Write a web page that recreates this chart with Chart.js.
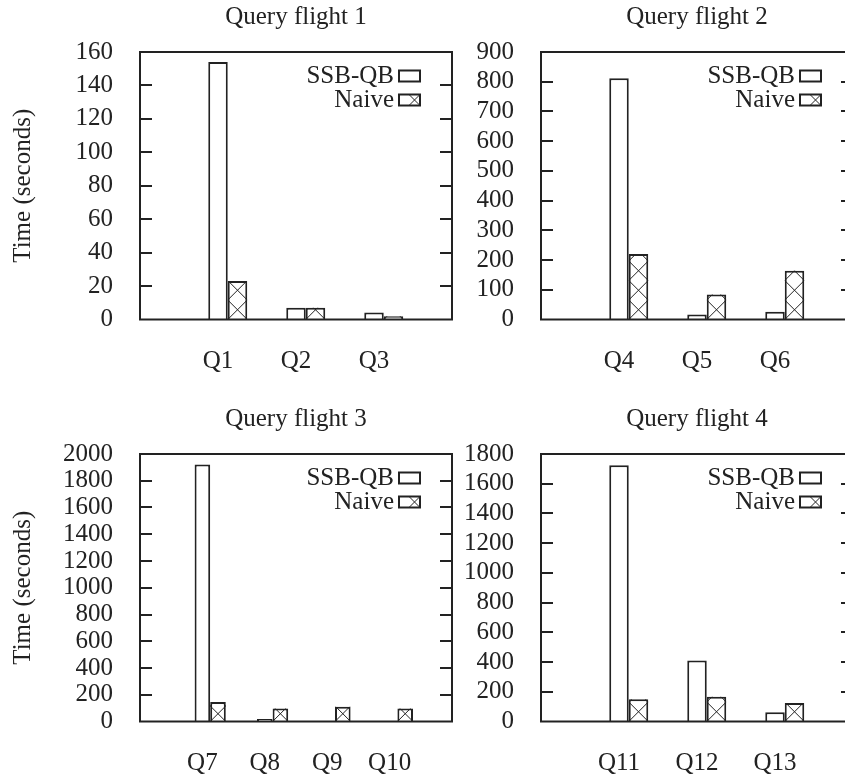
<!DOCTYPE html>
<html>
<head>
<meta charset="utf-8">
<script src="https://cdn.jsdelivr.net/npm/chart.js@4.4.0/dist/chart.umd.min.js"></script>
<style>
  html, body { margin: 0; padding: 0; background: #fff; overflow: hidden; }
  #wrap { position: relative; width: 845px; height: 778px; overflow: hidden; }
  canvas { position: absolute; }
</style>
</head>
<body>
<div id="wrap">
  <canvas id="flight1" width="460" height="390" style="left:0;top:0"></canvas>
  <canvas id="flight2" width="400" height="390" style="left:460px;top:0"></canvas>
  <canvas id="flight3" width="460" height="376" style="left:0;top:402px"></canvas>
  <canvas id="flight4" width="400" height="376" style="left:460px;top:402px"></canvas>
</div>
<script>
// query times in seconds
const flight1Queries = ['Q1', 'Q2', 'Q3'];
const flight1Ssb = [154, 7, 4.2];
const flight1Naive = [23, 7, 2];

const flight2Queries = ['Q4', 'Q5', 'Q6'];
const flight2Ssb = [812, 17, 26];
const flight2Naive = [220, 84, 164];

const flight3Queries = ['Q7', 'Q8', 'Q9', 'Q10'];
const flight3Ssb = [1922, 18, 2, 2];
const flight3Naive = [145, 97, 110, 97];

const flight4Queries = ['Q11', 'Q12', 'Q13'];
const flight4Ssb = [1724, 411, 63];
const flight4Naive = [150, 166, 124];

// y axis: max and step
const flight1Ticks = [160, 20];
const flight2Ticks = [900, 100];
const flight3Ticks = [2000, 200];
const flight4Ticks = [1800, 200];

const ink = '#222';
const family = '"Liberation Serif", "DejaVu Serif", serif';
const font = { family: family, size: 25 };

// box around the plot with inward ticks on both sides
const frame = {
    id: 'frame',
    afterDatasetsDraw(chart) {
        const ctx = chart.ctx;
        const a = chart.chartArea;
        const y = chart.scales.y;
        ctx.save();
        ctx.strokeStyle = ink;
        ctx.lineWidth = 2;
        ctx.strokeRect(a.left, a.top, a.right - a.left, a.bottom - a.top);
        ctx.beginPath();
        y.ticks.forEach(t => {
            if (t.value <= y.min || t.value >= y.max) return;
            const py = Math.round(y.getPixelForValue(t.value));
            ctx.moveTo(a.left, py);
            ctx.lineTo(a.left + 12, py);
            ctx.moveTo(a.right - 12, py);
            ctx.lineTo(a.right, py);
        });
        ctx.stroke();
        ctx.restore();
    }
};

function drawCross(ctx, l, top, r, bot) {
    const w = r - l;
    ctx.save();
    ctx.beginPath();
    ctx.rect(l, top, w, bot - top);
    ctx.clip();
    ctx.beginPath();
    for (let yb = bot; yb > top - w; yb -= w) {
        ctx.moveTo(l, yb);
        ctx.lineTo(r, yb - w);
        ctx.moveTo(l, yb - w);
        ctx.lineTo(r, yb);
    }
    ctx.strokeStyle = ink;
    ctx.lineWidth = 1;
    ctx.stroke();
    ctx.restore();
}

// crosshatch on the Naive bars
const hatch = {
    id: 'hatch',
    afterDatasetsDraw(chart) {
        const ctx = chart.ctx;
        chart.data.datasets.forEach((ds, i) => {
            if (!ds.hatched) return;
            chart.getDatasetMeta(i).data.forEach(bar => {
                const p = bar.getProps(['x', 'y', 'base', 'width'], true);
                if (p.y == null || isNaN(p.y)) return;
                const top = Math.min(p.y, p.base), bot = Math.max(p.y, p.base);
                if (bot - top < 1) return;
                drawCross(ctx, p.x - p.width / 2, top, p.x + p.width / 2, bot);
            });
        });
    }
};

// gnuplot style key: text then box, top right inside the plot
const boxKey = {
    id: 'boxKey',
    afterDraw(chart) {
        const ctx = chart.ctx;
        const a = chart.chartArea;
        ctx.save();
        ctx.font = '25px ' + family;
        ctx.fillStyle = ink;
        ctx.strokeStyle = ink;
        ctx.lineWidth = 2;
        ctx.textAlign = 'right';
        ctx.textBaseline = 'middle';
        let row = 0;
        chart.data.datasets.forEach(ds => {
            if (!ds.inKey) return;
            const cy = a.top + 24 + row * 24;
            const bx = a.right - 53;
            ctx.fillText(ds.label, bx - 5, cy);
            ctx.strokeRect(bx, cy - 5.5, 21, 11);
            if (ds.hatched) {
                ctx.beginPath();
                ctx.moveTo(bx + 10, cy - 5.5); ctx.lineTo(bx + 21, cy + 5.5);
                ctx.moveTo(bx + 10, cy + 5.5); ctx.lineTo(bx + 21, cy - 5.5);
                ctx.lineWidth = 1;
                ctx.stroke();
                ctx.lineWidth = 2;
            }
            row++;
        });
        ctx.restore();
    }
};

function makeChart(id, title, queries, ssb, naive, ticks, axisWidth, showYTitle, padRight) {
    const cats = ['', ...queries, ''];
    const pad = v => [null, ...v, null];
    const canvas = document.getElementById(id);
    return new Chart(canvas, {
        type: 'bar',
        data: {
            labels: cats,
            datasets: [{
                label: 'spacer',
                data: cats.map(() => 0),
                backgroundColor: 'rgba(0,0,0,0)',
                borderWidth: 0
            }, {
                label: 'SSB-QB',
                data: pad(ssb),
                backgroundColor: '#fff',
                borderColor: ink,
                borderWidth: 2,
                inKey: true
            }, {
                label: 'Naive',
                data: pad(naive),
                backgroundColor: '#fff',
                borderColor: ink,
                borderWidth: 2,
                hatched: true,
                inKey: true
            }]
        },
        options: {
            responsive: false,
            animation: false,
            categoryPercentage: 0.75,
            barPercentage: 1,
            layout: { padding: { left: 0, right: padRight, top: 0, bottom: 0 } },
            plugins: {
                legend: { display: false },
                tooltip: { enabled: false },
                title: {
                    display: true,
                    text: title,
                    fullSize: false,
                    color: ink,
                    font: { family: family, size: 25, weight: 'normal' },
                    padding: { top: 2, bottom: 20 }
                }
            },
            scales: {
                x: {
                    type: 'category',
                    offset: false,
                    grid: { display: false, drawTicks: true, tickLength: 27 },
                    border: { display: false },
                    ticks: { padding: 0, autoSkip: false, maxRotation: 0, color: ink, font: font },
                    afterFit: s => { s.height = canvas.height - 319.5; }
                },
                y: {
                    min: 0,
                    max: ticks[0],
                    grid: { display: false, drawTicks: false },
                    border: { display: false },
                    ticks: {
                        stepSize: ticks[1],
                        autoSkip: false,
                        padding: 27,
                        color: ink,
                        font: font,
                        callback: v => String(v)
                    },
                    title: {
                        display: showYTitle,
                        text: 'Time (seconds)',
                        color: ink,
                        font: font,
                        padding: { top: 8, bottom: 0 }
                    },
                    afterFit: s => { s.width = axisWidth; }
                }
            }
        },
        plugins: [hatch, frame, boxKey]
    });
}

makeChart('flight1', 'Query flight 1', flight1Queries, flight1Ssb, flight1Naive, flight1Ticks, 140, true, 8);
makeChart('flight2', 'Query flight 2', flight2Queries, flight2Ssb, flight2Naive, flight2Ticks, 81, false, 7);
makeChart('flight3', 'Query flight 3', flight3Queries, flight3Ssb, flight3Naive, flight3Ticks, 140, true, 8);
makeChart('flight4', 'Query flight 4', flight4Queries, flight4Ssb, flight4Naive, flight4Ticks, 81, false, 7);
</script>
</body>
</html>
